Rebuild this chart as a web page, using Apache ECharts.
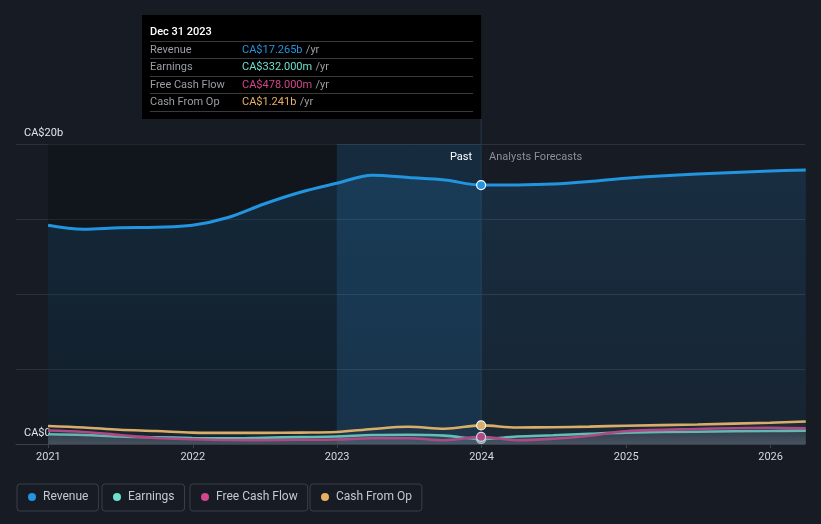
<!DOCTYPE html>
<html>
<head>
<meta charset="utf-8">
<script src="https://cdn.jsdelivr.net/npm/echarts@6/dist/echarts.min.js"></script>
<style>
html,body{margin:0;padding:0;background:#161b24;}
#chart{width:821px;height:524px;}
</style>
</head>
<body>
<div id="chart"></div>
<script>
// ---- data (values in billions CA$) ----
const dates = ['2020-12-31','2021-03-31','2021-06-30','2021-09-30','2021-12-31','2022-03-31','2022-06-30','2022-09-30','2022-12-31','2023-03-31','2023-06-30','2023-09-30','2023-12-31','2024-03-31','2024-06-30','2024-09-30','2024-12-31','2025-06-30','2025-12-31','2026-03-31'];
const revenue  = [14.58,14.32,14.42,14.45,14.58,15.10,16.00,16.78,17.38,17.92,17.76,17.60,17.265,17.27,17.33,17.50,17.72,18.00,18.20,18.27];
const earnings = [0.65,0.60,0.50,0.45,0.40,0.38,0.42,0.46,0.50,0.60,0.62,0.56,0.332,0.50,0.58,0.68,0.76,0.82,0.87,0.89];
const fcf      = [0.90,0.80,0.60,0.40,0.32,0.27,0.26,0.28,0.30,0.38,0.38,0.25,0.478,0.25,0.35,0.55,0.85,1.00,1.08,1.04];
const cfo      = [1.20,1.10,0.95,0.87,0.76,0.74,0.74,0.76,0.80,1.00,1.15,1.02,1.241,1.10,1.12,1.16,1.22,1.30,1.42,1.50];
const yearTicks = ['2021-01-01','2022-01-01','2023-01-01','2024-01-01','2025-01-01','2026-01-01'];
const yearLabels = ['2021','2022','2023','2024','2025','2026'];
const seriesNames = ['Revenue','Earnings','Free Cash Flow','Cash From Op'];
const colors = ['#2394df','#6fe0cd','#d2468c','#e9b05f'];
const tipDate = 'Dec 31 2023';
const tipValues = ['CA$17.265b','CA$332.000m','CA$478.000m','CA$1.241b'];
const axisStart = '2020-10-11', axisEnd = '2026-03-29';
const pastStart = '2020-12-31', highlightStart = '2022-12-31', nowDate = '2023-12-31';

const ts = (s) => { const p = s.split('-').map(Number); return Date.UTC(p[0], p[1]-1, p[2]); };
const nowIndex = dates.indexOf(nowDate);
const tickTs = yearTicks.map(ts);

const chart = echarts.init(document.getElementById('chart'));
const font = 'Roboto, "Open Sans", sans-serif';

function mk(vals, idx) {
  return vals.map((v, i) => {
    if (i === nowIndex) {
      return {value: [ts(dates[i]), v], symbol: 'circle', symbolSize: 9,
        itemStyle: {color: colors[idx], borderColor: '#ffffff', borderWidth: 1.2}};
    }
    return [ts(dates[i]), v];
  });
}

const zOrder = [10, 7, 8, 9];
const allVals = [revenue, earnings, fcf, cfo];
const series = allVals.map((vals, k) => {
  const s = {
    name: seriesNames[k], type: 'line', smooth: 0.35, symbol: 'none', showSymbol: true, showAllSymbol: true,
    data: mk(vals, k), z: zOrder[k],
    lineStyle: {color: colors[k], width: k === 0 ? 3 : 2.6},
    itemStyle: {color: colors[k]},
    emphasis: {disabled: true}
  };
  if (k === 0) {
    s.areaStyle = {color: new echarts.graphic.LinearGradient(0,0,0,1,[
      {offset:0,color:'rgba(35,148,223,0.22)'},{offset:1,color:'rgba(35,148,223,0.10)'}])};
    s.markArea = {silent: true,
      data: [
        [{xAxis: ts(pastStart), itemStyle:{color:'rgba(0,0,0,0.22)'}}, {xAxis: ts(highlightStart)}],
        [{xAxis: ts(highlightStart), itemStyle:{color:'rgba(35,140,215,0.15)'}}, {xAxis: ts(nowDate)}]
      ]};
  } else if (k === 1 || k === 2) {
    s.areaStyle = {color: new echarts.graphic.LinearGradient(0,0,0,1,[
      {offset:0,color:'rgba(140,145,160,0.14)'},{offset:1,color:'rgba(140,145,160,0.38)'}])};
  } else {
    s.areaStyle = {color: 'rgba(60,60,60,0.25)'};
  }
  return s;
});

const legends = seriesNames.map((n, k) => ({
  data: [n], left: [17, 102, 190, 310][k], top: 484, icon: 'circle', itemWidth: 8, itemHeight: 8,
  selectedMode: false,
  padding: [7, 10, 8, 11], borderColor: '#3a3f49', borderWidth: 1, borderRadius: 3,
  textStyle: {color: '#c5c9cf', fontSize: 12, fontFamily: font, padding: [0,0,0,2]}
}));

chart.setOption({
  backgroundColor: '#161b24',
  animation: false,
  color: colors,
  grid: {left: 16, right: 16, top: 144, bottom: 80, containLabel: false},
  xAxis: {
    type: 'value', min: ts(axisStart), max: ts(axisEnd),
    axisLine: {show: true, onZero: false, lineStyle: {color: '#3b414b', width: 1}},
    axisTick: {show: true, customValues: tickTs, length: 4, lineStyle: {color: '#3b414b'}},
    axisLabel: {customValues: tickTs, color: '#d5d8dd', fontSize: 11, fontFamily: font, margin: 8,
      formatter: (v) => { const i = tickTs.indexOf(v); return i >= 0 ? yearLabels[i] : ''; }},
    splitLine: {show: false}
  },
  yAxis: {
    type: 'value', min: 0, max: 20, interval: 5,
    axisLine: {show: false}, axisTick: {show: false},
    splitLine: {lineStyle: {color: '#2c323b', width: 1}},
    axisLabel: {inside: true, margin: 8, color: '#e2e5e9', fontSize: 11, fontFamily: font,
      verticalAlign: 'bottom', padding: [0,0,5,0],
      formatter: (v) => v === 0 ? 'CA$0' : (v === 20 ? 'CA$20b' : '')}
  },
  legend: legends,
  series: series
});

// overlay decorations positioned through the axes
const xNow = chart.convertToPixel({xAxisIndex: 0}, ts(nowDate));
const yBot = chart.convertToPixel({yAxisIndex: 0}, 0);
const boxL = 142, boxT = 15, boxB = 119;
const rowY = [50, 67, 85, 102];
const sepY = [41, 58, 76, 93, 111];
const g = [];
g.push({type:'line', shape:{x1:xNow, y1:boxB, x2:xNow, y2:yBot}, style:{stroke:'#26394d', lineWidth:1}, z: 5, silent: true});
g.push({type:'rect', shape:{x:boxL, y:boxT, width:xNow-boxL, height:boxB-boxT}, style:{fill:'#000000'}, z: 50});
g.push({type:'text', x:150, y:32, style:{text: tipDate, fill:'#ffffff', font:'500 11px ' + font, verticalAlign:'middle'}, z: 51});
sepY.forEach(y => g.push({type:'line', shape:{x1:150, y1:y+0.5, x2:xNow-8, y2:y+0.5}, style:{stroke:'#3a3a3a', lineWidth:1}, z: 51}));
seriesNames.forEach((n, k) => {
  g.push({type:'text', x:150, y:rowY[k], style:{text:n, fill:'#9a9ea5', font:'11px ' + font, verticalAlign:'middle'}, z:51});
  g.push({type:'text', x:242, y:rowY[k], style:{
    text: '{v|' + tipValues[k] + '} {u|/yr}', verticalAlign:'middle',
    rich: {v:{fill: colors[k], font:'11px ' + font}, u:{fill:'#9a9ea5', font:'11px ' + font}}}, z:51});
});
g.push({type:'text', x:xNow-9, y:157, style:{text:'Past', fill:'#ffffff', font:'11px ' + font, align:'right', verticalAlign:'middle'}, z:20});
g.push({type:'text', x:xNow+8, y:157, style:{text:'Analysts Forecasts', fill:'#8b9098', font:'11px ' + font, align:'left', verticalAlign:'middle'}, z:20});
chart.setOption({graphic: g});
</script>
</body>
</html>
